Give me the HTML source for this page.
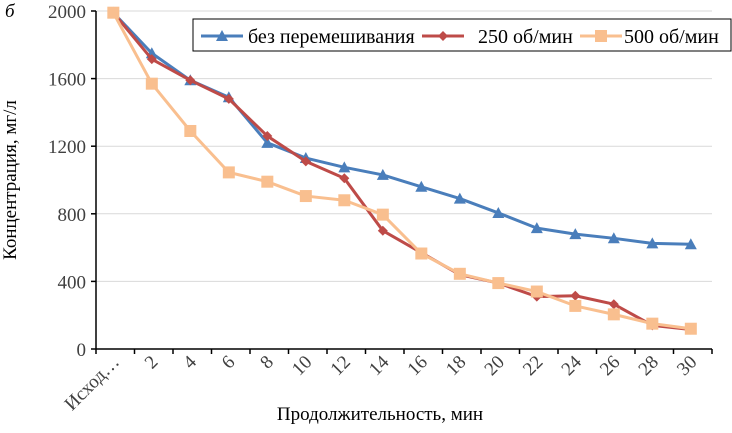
<!DOCTYPE html>
<html><head><meta charset="utf-8"><style>
body{margin:0;background:#fff}
svg text{font-family:"Liberation Serif",serif;fill:#404040}
</style></head><body>
<svg id="chart" width="732" height="428" xmlns="http://www.w3.org/2000/svg"></svg>
<script>
const categories=["Исход…","2","4","6","8","10","12","14","16","18","20","22","24","26","28","30"];
const seriesNames=["без перемешивания","250 об/мин","500 об/мин"];
const noMix=[1990,1750,1590,1490,1220,1130,1075,1030,960,890,805,715,680,655,625,620];
const rpm250=[1990,1715,1590,1480,1260,1110,1010,700,570,440,390,310,315,265,140,115];
const rpm500=[1990,1570,1290,1045,990,905,880,795,565,445,390,340,255,205,150,120];
const yTicks=[0,400,800,1200,1600,2000];
const svg=document.getElementById('chart');
const NS="http://www.w3.org/2000/svg";
const X0=96,X1=712,Y0=349,Y1=11;
const cw=(X1-X0)/categories.length;
const xs=i=>X0+cw*(i+0.45);
const ys=v=>Y0-(v/2000)*(Y0-Y1);
function mk(t,a,p){const e=document.createElementNS(NS,t);for(const k in a)e.setAttribute(k,a[k]);(p||svg).appendChild(e);return e;}
yTicks.forEach(v=>{
 if(v>0){const g=mk('line',{x1:X0,x2:X1,y1:ys(v),y2:ys(v),stroke:'#d9d9d9','stroke-width':1});
 
 }
 const t=mk('text',{x:X0-10,y:ys(v)+7,'text-anchor':'end','font-size':19});t.textContent=v;
 
 
 const tk=mk('line',{x1:X0-5,x2:X0,y1:ys(v),y2:ys(v),stroke:'#000','stroke-width':1.5});
 
 
});
const ya=mk('line',{x1:X0,x2:X0,y1:Y1,y2:Y0,stroke:'#000','stroke-width':1.5});


const xa=mk('line',{x1:X0,x2:X1,y1:Y0,y2:Y0,stroke:'#000','stroke-width':1.5});


for(let i=0;i<=categories.length;i++){const x=X0+cw*i;const tk=mk('line',{x1:x,x2:x,y1:Y0,y2:Y0+5,stroke:'#000','stroke-width':1.5});
 
 }
categories.forEach((c,i)=>{const x=xs(i)+7,y=Y0+14;
 const t=mk('text',{x:x,y:y,'text-anchor':'end','font-size':19,transform:`rotate(-45 ${x} ${y})`});t.textContent=c;
 
 });
const colors=['#4a7ebb','#be4b48','#f9bf8f'];
function marker(kind,x,y,col,p){
 if(kind==0)return mk('polygon',{points:`${x},${y-6} ${x+6},${y+5} ${x-6},${y+5}`,fill:col},p);
 if(kind==1)return mk('polygon',{points:`${x},${y-5} ${x+5},${y} ${x},${y+5} ${x-5},${y}`,fill:col},p);
 return mk('rect',{x:x-6,y:y-6,width:12,height:12,fill:col},p);
}
[noMix,rpm250,rpm500].forEach((d,s)=>{
 const g=mk('g',{});
 
 
 mk('polyline',{points:d.map((v,i)=>xs(i)+','+ys(v)).join(' '),fill:'none',stroke:colors[s],'stroke-width':3,'stroke-linejoin':'round'},g);
 d.forEach((v,i)=>{const m=marker(s,xs(i),ys(v),colors[s],g);
  
  });
});
const lg=mk('g',{});


mk('rect',{x:193,y:19,width:538,height:32,fill:'#fff',stroke:'#000','stroke-width':1},lg);
const lx=[201,422,580],tx=[248,478,624];
seriesNames.forEach((n,s)=>{
 const e=mk('g',{},lg);
 
 
 mk('line',{x1:lx[s],x2:lx[s]+42,y1:36,y2:36,stroke:colors[s],'stroke-width':3},e);
 marker(s,lx[s]+21,36,colors[s],e);
 const t=mk('text',{x:tx[s],y:43,'font-size':20,fill:'#000'},e);t.textContent=n;t.style.fill='#000';
});
const yt=mk('text',{x:0,y:0,'text-anchor':'middle','font-size':19,transform:'translate(16 180) rotate(-90)'});yt.textContent='Концентрация, мг/л';yt.style.fill='#000';


const xt=mk('text',{x:380,y:420,'text-anchor':'middle','font-size':19});xt.textContent='Продолжительность, мин';xt.style.fill='#000';


const lb=mk('text',{x:5,y:17,'font-size':19,'font-style':'italic'});lb.textContent='б';lb.style.fill='#000';


</script>
</body></html>
